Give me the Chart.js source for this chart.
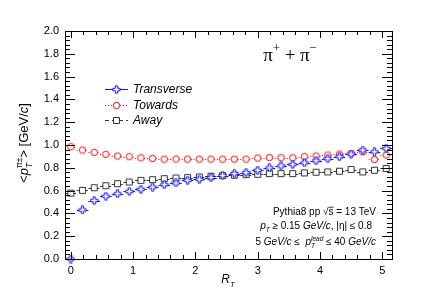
<!DOCTYPE html>
<html>
<head>
<meta charset="utf-8">
<script src="https://cdn.jsdelivr.net/npm/chart.js@4/dist/chart.umd.min.js"></script>
<style>
  body { margin: 0; background: #fff; }
  canvas { display: block; }
</style>
</head>
<body>
<canvas id="chart" width="436" height="305"></canvas>
<script>
// R_T bin centres
const rT = [0, 0.1875, 0.375, 0.5625, 0.75, 0.9375, 1.125, 1.3125, 1.5, 1.6875,
            1.875, 2.0625, 2.25, 2.4375, 2.625, 2.8125, 3.0, 3.1875, 3.375, 3.5625,
            3.75, 3.9375, 4.125, 4.3125, 4.5, 4.6875, 4.875, 5.0625];
const binHalfWidth = 0.09375;

// <pT> values per region
const transverse = [0.0, 0.43, 0.513, 0.551, 0.572, 0.593, 0.611, 0.631, 0.652, 0.667,
                    0.69, 0.699, 0.714, 0.732, 0.749, 0.758, 0.779, 0.799, 0.817, 0.829,
                    0.844, 0.861, 0.879, 0.897, 0.92, 0.956, 0.94, 0.97];
const towards = [0.985, 0.956, 0.935, 0.918, 0.903, 0.897, 0.888, 0.882, 0.876, 0.876,
                 0.876, 0.876, 0.876, 0.876, 0.876, 0.876, 0.885, 0.89, 0.888, 0.888,
                 0.897, 0.903, 0.912, 0.92, 0.926, 0.94, 0.873, 0.912];
const away = [0.578, 0.602, 0.625, 0.643, 0.661, 0.675, 0.69, 0.696, 0.705, 0.711,
              0.714, 0.72, 0.726, 0.732, 0.735, 0.74, 0.743, 0.749, 0.749, 0.749,
              0.755, 0.761, 0.764, 0.77, 0.785, 0.764, 0.779, 0.794];

const seriesNames = ['Transverse', 'Towards', 'Away'];

const FONT = '"Liberation Sans", Arial, sans-serif';
const BLUE = '#1010ff';
const RED = '#ff0000';
const DARK = '#333333';

// open marker images (ROOT style)
function makeMarker(kind, color) {
    const c = document.createElement('canvas');
    c.width = 9; c.height = 9;
    const g = c.getContext('2d');
    g.strokeStyle = color;
    g.fillStyle = '#fff';
    g.lineWidth = 1;
    g.beginPath();
    if (kind === 'cross') {
        const a = 1.2, b = 3.6, m = 4.5;
        g.moveTo(m - a, m - b); g.lineTo(m + a, m - b); g.lineTo(m + a, m - a);
        g.lineTo(m + b, m - a); g.lineTo(m + b, m + a); g.lineTo(m + a, m + a);
        g.lineTo(m + a, m + b); g.lineTo(m - a, m + b); g.lineTo(m - a, m + a);
        g.lineTo(m - b, m + a); g.lineTo(m - b, m - a); g.lineTo(m - a, m - a);
        g.closePath();
    } else if (kind === 'circle') {
        g.arc(4.5, 4.5, 3.2, 0, Math.PI * 2);
    } else {
        g.rect(1.5, 1.5, 6, 6);
    }
    g.fill();
    g.stroke();
    return c;
}

const markers = [makeMarker('cross', BLUE), makeMarker('circle', RED), makeMarker('square', DARK)];
const colors = [BLUE, RED, DARK];
const dashes = [[], [1, 2], [4, 3]];

function toPoints(values) {
    return values.map((v, i) => ({ x: rT[i], y: v }));
}

// rich text: array of [text, {it, sub, sup, stack, overline, font}]
function richWidth(ctx, parts, size) {
    let w = 0;
    parts.forEach(p => {
        const s = p[1] || {};
        const fs = (s.sub || s.sup) ? size * 0.65 : size;
        ctx.font = (s.it ? 'italic ' : '') + fs + 'px ' + (s.font || FONT);
        if (!s.stack) w += ctx.measureText(p[0]).width;
    });
    return w;
}

function drawRich(ctx, parts, x, y, size, align) {
    let cx = x;
    if (align === 'right') cx = x - richWidth(ctx, parts, size);
    if (align === 'center') cx = x - richWidth(ctx, parts, size) / 2;
    ctx.textBaseline = 'alphabetic';
    ctx.textAlign = 'left';
    parts.forEach(p => {
        const s = p[1] || {};
        const fs = (s.sub || s.sup) ? size * 0.65 : size;
        ctx.font = (s.it ? 'italic ' : '') + fs + 'px ' + (s.font || FONT);
        let dy = 0;
        if (s.sub) dy = size * 0.3;
        if (s.sup) dy = -size * 0.45;
        ctx.fillText(p[0], cx, y + dy);
        const pw = ctx.measureText(p[0]).width;
        if (s.overline) {
            ctx.beginPath();
            ctx.lineWidth = 0.8;
            ctx.moveTo(cx, y - size * 0.78);
            ctx.lineTo(cx + pw, y - size * 0.78);
            ctx.stroke();
        }
        if (!s.stack) cx += pw;
    });
}

const errorBars = {
    id: 'errorBars',
    beforeDatasetsDraw(chart) {
        const ctx = chart.ctx;
        const xs = chart.scales.x;
        chart.data.datasets.forEach((ds, di) => {
            const meta = chart.getDatasetMeta(di);
            ctx.save();
            ctx.strokeStyle = colors[di];
            ctx.lineWidth = 1;
            ctx.setLineDash(dashes[di]);
            meta.data.forEach((pt, i) => {
                const x1 = xs.getPixelForValue(rT[i] - binHalfWidth);
                const x2 = xs.getPixelForValue(rT[i] + binHalfWidth);
                ctx.beginPath();
                ctx.moveTo(x1, Math.round(pt.y) + 0.5);
                ctx.lineTo(x2, Math.round(pt.y) + 0.5);
                ctx.stroke();
            });
            ctx.restore();
        });
    }
};

const frameAndText = {
    id: 'frameAndText',
    afterDraw(chart) {
        const ctx = chart.ctx;
        const a = chart.chartArea;
        const xs = chart.scales.x, ys = chart.scales.y;
        ctx.save();
        ctx.strokeStyle = '#000';
        ctx.fillStyle = '#000';
        ctx.lineWidth = 1;
        ctx.strokeRect(Math.round(a.left) + 0.5, Math.round(a.top) + 0.5,
                       Math.round(a.right - a.left), Math.round(a.bottom - a.top));

        // x ticks, bottom and top, pointing inwards
        ctx.beginPath();
        for (let k = 0; k <= 26; k++) {
            const v = k * 0.2;
            if (v > xs.max) break;
            const px = Math.round(xs.getPixelForValue(v)) + 0.5;
            const len = (k % 5 === 0) ? 7 : 4;
            ctx.moveTo(px, a.bottom); ctx.lineTo(px, a.bottom - len);
            ctx.moveTo(px, a.top); ctx.lineTo(px, a.top + len);
        }
        // y ticks, left and right
        for (let k = 0; k <= 50; k++) {
            const v = k * 0.04;
            const py = Math.round(ys.getPixelForValue(v)) + 0.5;
            const len = (k % 5 === 0) ? 10 : 5;
            ctx.moveTo(a.left, py); ctx.lineTo(a.left + len, py);
            ctx.moveTo(a.right, py); ctx.lineTo(a.right - len, py);
        }
        ctx.stroke();

        // legend
        const legX1 = 105, legX2 = 128, legTextX = 133;
        const legY = [89, 105, 120];
        seriesNames.forEach((name, i) => {
            ctx.save();
            ctx.strokeStyle = colors[i];
            ctx.setLineDash(dashes[i]);
            ctx.lineWidth = 1;
            ctx.beginPath();
            ctx.moveTo(legX1, legY[i] + 0.5);
            ctx.lineTo(legX2, legY[i] + 0.5);
            ctx.stroke();
            ctx.restore();
            const m = markers[i];
            ctx.drawImage(m, Math.round((legX1 + legX2) / 2 - m.width / 2), legY[i] - 4);
            ctx.fillStyle = '#000';
            ctx.font = 'italic 12px ' + FONT;
            ctx.textAlign = 'left';
            ctx.textBaseline = 'middle';
            ctx.fillText(name, legTextX, legY[i] + 1);
        });

        // particle label
        ctx.fillStyle = '#000';
        const serif = '"Liberation Serif", "Times New Roman", serif';
        drawRich(ctx, [
            ['\u03c0', { font: serif }], ['+', { sup: true, font: serif }],
            [' + ', { font: serif }],
            ['\u03c0', { font: serif }], ['\u2212', { sup: true, font: serif }]
        ], 290, 61, 19, 'center');

        // info text
        drawRich(ctx, [
            ['Pythia8 pp '], ['\u221a'], ['s', { overline: true }], [' = 13 TeV']
        ], 376, 215, 10, 'right');
        drawRich(ctx, [
            ['p', { it: true }], ['T', { it: true, sub: true }], [' \u2265 0.15 '],
            ['GeV/c', { it: true }], [', |\u03b7| \u2264 0.8']
        ], 372, 229, 10, 'right');
        drawRich(ctx, [
            ['5 '], ['GeV/c', { it: true }], [' \u2264  '],
            ['p', { it: true }], ['T', { it: true, sub: true, stack: true }],
            ['lead', { it: true, sup: true }], [' \u2264 40 '], ['GeV/c', { it: true }]
        ], 376, 245, 10, 'right');

        // x axis title
        drawRich(ctx, [['R', { it: true }], ['T', { it: true, sub: true }]], 228, 283, 12, 'center');

        // y axis title (rotated)
        ctx.save();
        ctx.translate(28, 143);
        ctx.rotate(-Math.PI / 2);
        drawRich(ctx, [
            ['<'], ['p', { it: true }], ['T', { it: true, sub: true, stack: true }],
            ['\u03c0\u00b1', { sup: true }], ['> [GeV/'], ['c', { it: true }], [']']
        ], 0, 0, 13, 'center');
        ctx.restore();
        ctx.restore();
    }
};

const datasets = [transverse, towards, away].map((vals, i) => ({
    label: seriesNames[i],
    data: toPoints(vals),
    showLine: false,
    pointStyle: markers[i],
    pointRadius: 4,
    clip: false
}));

new Chart(document.getElementById('chart'), {
    type: 'scatter',
    data: { datasets: datasets },
    options: {
        responsive: false,
        animation: false,
        events: [],
        layout: { padding: { left: 0, right: 44, top: 31, bottom: 0 } },
        plugins: { legend: { display: false }, tooltip: { enabled: false } },
        scales: {
            x: {
                type: 'linear',
                min: -0.09375,
                max: 5.15625,
                grid: { display: false, drawTicks: false },
                border: { display: false },
                ticks: {
                    stepSize: 1,
                    includeBounds: false,
                    padding: 5,
                    color: '#000',
                    font: { family: FONT, size: 11 },
                    maxRotation: 0,
                    callback: v => String(v)
                },
                afterFit(scale) { scale.height = 46; }
            },
            y: {
                type: 'linear',
                min: 0,
                max: 2,
                grid: { display: false, drawTicks: false },
                border: { display: false },
                ticks: {
                    stepSize: 0.2,
                    padding: 6,
                    color: '#000',
                    font: { family: FONT, size: 11 },
                    callback: v => v.toFixed(1)
                },
                afterFit(scale) { scale.width = 65; }
            }
        }
    },
    plugins: [errorBars, frameAndText]
});
</script>
</body>
</html>
